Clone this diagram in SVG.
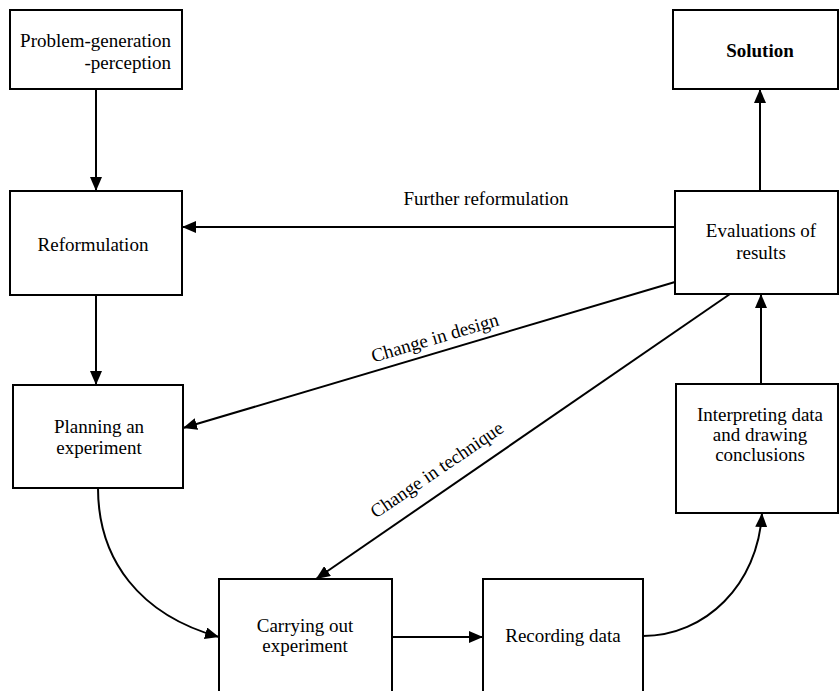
<svg xmlns="http://www.w3.org/2000/svg" width="840" height="691" viewBox="0 0 840 691">
<defs>
<marker id="ah" markerUnits="userSpaceOnUse" markerWidth="16" markerHeight="12" refX="14" refY="6" orient="auto">
<path d="M0,0 L14,6 L0,12 Z" fill="#000"/>
</marker>
<style>
.box{fill:#fff;stroke:#000;stroke-width:2}
.t{font-family:"Liberation Serif","Times New Roman",serif;font-size:19px;fill:#000;text-anchor:middle}
.c{fill:none;stroke:#000;stroke-width:2;marker-end:url(#ah)}
</style>
</defs>
<rect width="840" height="691" fill="#fff"/>
<g id="connectors">
<line class="c" x1="96" y1="89" x2="96" y2="191"/>
<line class="c" x1="96" y1="295" x2="96" y2="385"/>
<line class="c" x1="675" y1="227" x2="182" y2="227"/>
<line class="c" x1="760" y1="191" x2="760" y2="89"/>
<line class="c" x1="761" y1="384" x2="761" y2="294"/>
<line class="c" x1="675" y1="282" x2="183" y2="428"/>
<line class="c" x1="730" y1="294" x2="316" y2="579"/>
<path class="c" d="M98,488 C98,560 140,615 219,637"/>
<line class="c" x1="392" y1="637" x2="483" y2="637"/>
<path class="c" d="M643,636 C705,636 758,585 762,513"/>
<text class="t" x="486" y="205">Further reformulation</text>
<text class="t" x="435" y="344" transform="rotate(-16.5 435 338)">Change in design</text>
<text class="t" x="437" y="476" transform="rotate(-34.2 437 470)">Change in technique</text>
</g>
<g id="problem">
<rect class="box" x="10" y="10" width="172" height="79"/>
<text class="t" x="171" y="47" style="text-anchor:end">Problem-generation</text>
<text class="t" x="171" y="69" style="text-anchor:end">-perception</text>
</g>
<g id="solution">
<rect class="box" x="673" y="10" width="165" height="79"/>
<text class="t" x="760" y="57" style="font-weight:bold">Solution</text>
</g>
<g id="reformulation">
<rect class="box" x="10" y="191" width="172" height="104"/>
<text class="t" x="93" y="251">Reformulation</text>
</g>
<g id="evaluations">
<rect class="box" x="675" y="191" width="163" height="103"/>
<text class="t" x="761" y="237">Evaluations of</text>
<text class="t" x="761" y="259">results</text>
</g>
<g id="planning">
<rect class="box" x="13" y="385" width="170" height="103"/>
<text class="t" x="99" y="433">Planning an</text>
<text class="t" x="99" y="454">experiment</text>
</g>
<g id="interpreting">
<rect class="box" x="676" y="384" width="162" height="129"/>
<text class="t" x="760" y="421">Interpreting data</text>
<text class="t" x="760" y="441">and drawing</text>
<text class="t" x="760" y="461">conclusions</text>
</g>
<g id="carrying">
<rect class="box" x="219" y="579" width="173" height="130"/>
<text class="t" x="305" y="632">Carrying out</text>
<text class="t" x="305" y="652">experiment</text>
</g>
<g id="recording">
<rect class="box" x="483" y="579" width="160" height="130"/>
<text class="t" x="563" y="642">Recording data</text>
</g>
</svg>
